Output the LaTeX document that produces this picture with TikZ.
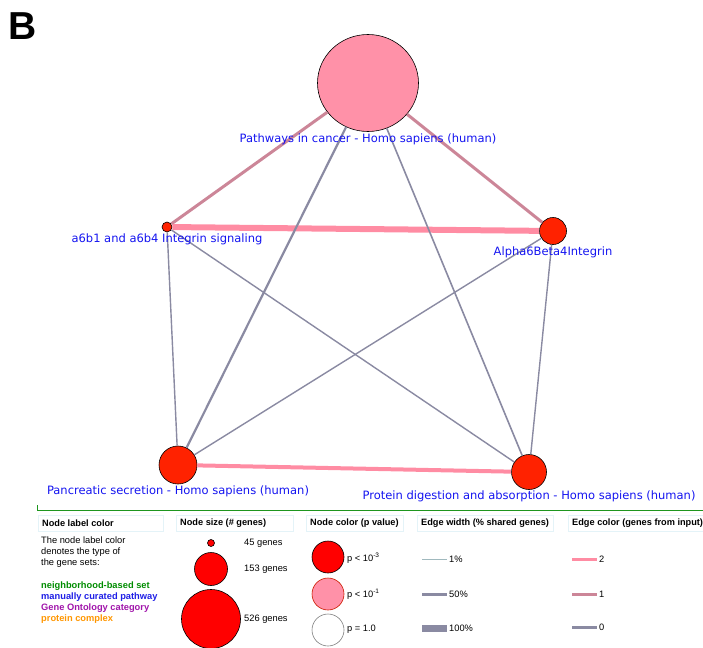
\documentclass[tikz,border=0pt]{standalone}
\usepackage{fontspec}
\setmainfont{Liberation Sans}
\newfontfamily\netfont{DejaVu Sans}
\usetikzlibrary{positioning,shapes.geometric}
\definecolor{colRED}{RGB}{255,34,0}
\definecolor{colPUR}{RGB}{255,0,0}
\definecolor{colPNK}{RGB}{255,145,168}
\definecolor{colETWO}{RGB}{255,140,163}
\definecolor{colEONE}{RGB}{204,134,152}
\definecolor{colEZERO}{RGB}{138,138,162}
\definecolor{colTHIN}{RGB}{160,185,190}
\definecolor{colLBL}{RGB}{20,20,240}
\definecolor{colHBOX}{RGB}{228,243,248}
\definecolor{colGRN}{RGB}{30,150,30}
\definecolor{colTGRN}{RGB}{0,140,0}
\definecolor{colTBLU}{RGB}{30,30,230}
\definecolor{colTPUR}{RGB}{160,20,170}
\definecolor{colTORA}{RGB}{255,150,0}

\begin{document}
\begin{tikzpicture}[x=1pt,y=-1pt,
    gset/.style={circle, draw=black, line width=0.6pt, fill=colRED, inner sep=0pt, minimum size=#1},
    glbl/.style={font=\netfont\fontsize{11.5}{13}\selectfont, text=colLBL, inner sep=0pt},
    ezero/.style={colEZERO, line width=#1},
    eone/.style={colEONE, line width=3pt},
    etwo/.style={colETWO, line width=#1},
    hdr/.style={anchor=west, inner xsep=4pt, inner ysep=0pt, font=\bfseries\fontsize{9.2}{10}\selectfont},
    lgd/.style={anchor=west, inner sep=0pt, font=\fontsize{9.3}{11}\selectfont}]
  \useasboundingbox (0,0) rectangle (703,647);
  \node[anchor=base west, inner sep=0pt, font=\bfseries\fontsize{39}{39}\selectfont] (panel) at (8,40) {B};

  % gene set nodes
  \node[ellipse, draw=black, line width=0.6pt, fill=colPNK, inner sep=0pt,
        minimum width=101pt, minimum height=97pt] (can) at (368,83) {};
  \node[gset=10pt] (a6) at (167,227) {};
  \node[gset=27pt] (al) at (553,231) {};
  \node[gset=38pt] (pan) at (178,465) {};
  \node[gset=35pt] (pro) at (529,472) {};

  % edges: colour = genes from input, width = shared genes
  \draw[eone] (can) -- (a6);
  \draw[eone] (can) -- (al);
  \draw[etwo=6pt] (a6) -- (al);
  \draw[etwo=4pt] (pan) -- (pro);
  \draw[ezero=2.2pt] (can) -- (pan);
  \draw[ezero=1.6pt] (can) -- (pro);
  \draw[ezero=1.4pt] (a6) -- (pan);
  \draw[ezero=1.4pt] (a6) -- (pro);
  \draw[ezero=1.4pt] (al) -- (pan);
  \draw[ezero=1.4pt] (al) -- (pro);

  % node labels
  \node[glbl, below=1.5pt of can] (canL) {Pathways in cancer - Homo sapiens (human)};
  \node[glbl, below=1.5pt of a6] (a6L) {a6b1 and a6b4 Integrin signaling};
  \node[glbl, below=1.5pt of al] (alL) {Alpha6Beta4Integrin};
  \node[glbl, below=1.5pt of pan] (panL) {Pancreatic secretion - Homo sapiens (human)};
  \node[glbl, below=0.5pt of pro] (proL) {Protein digestion and absorption - Homo sapiens (human)};

  % legend
  \draw[colGRN, line width=0.8pt] (37,505) -- (37,510) -- (703,510);
  \foreach \x/\w/\t in {38/125/Node label color, 176/117/Node size (\# genes),
                        306/97/Node color (p value), 417/136/Edge width (\% shared genes),
                        568/135/Edge color (genes from input)}{
    \draw[colHBOX, line width=0.6pt] (\x,515) rectangle ++(\w,16);
    \node[hdr] at (\x,523) {\t};
  }

  \node[lgd, anchor=north west, align=left] (intro) at (41,536.5)
    {The node label color\\denotes the type of\\the gene sets:};
  \foreach \y/\c/\t in {586/colTGRN/neighborhood-based set, 597/colTBLU/manually curated pathway,
                        608/colTPUR/Gene Ontology category, 619/colTORA/protein complex}{
    \node[lgd, text=\c, font=\bfseries\fontsize{9.3}{11}\selectfont] at (41,\y) {\t};
  }

  \node[gset=7pt, fill=colPUR] (s45) at (211,543) {};
  \node[gset=33pt, fill=colPUR] (s153) at (211,569) {};
  \node[gset=59pt, fill=colPUR] (s526) at (211,619) {};
  \node[lgd] at (244,543) {45 genes};
  \node[lgd] at (244,569) {153 genes};
  \node[lgd] at (244,619) {526 genes};

  \node[gset=32pt, fill=colPUR] (pLow) at (328,557) {};
  \node[gset=32pt, fill=colPNK, draw=colRED!80!black] (pMid) at (328,594) {};
  \node[gset=32pt, fill=white, draw=gray] (pOne) at (328,630) {};
  \node[lgd] at (347,558) {p < 10\textsuperscript{-3}};
  \node[lgd] at (347,594) {p < 10\textsuperscript{-1}};
  \node[lgd] at (347,629) {p = 1.0};

  \foreach \y/\w/\c/\l in {559/1pt/colTHIN/1\%, 594/3pt/colEZERO/50\%, 628/7pt/colEZERO/100\%}{
    \draw[\c, line width=\w] (422,\y) -- (447,\y);
    \node[lgd] at (449,\y) {\l};
  }
  \foreach \y/\c/\l in {559/colETWO/2, 594/colEONE/1, 627/colEZERO/0}{
    \draw[\c, line width=3pt] (572,\y) -- (597,\y);
    \node[lgd] at (599,\y) {\l};
  }
\end{tikzpicture}
\end{document}
